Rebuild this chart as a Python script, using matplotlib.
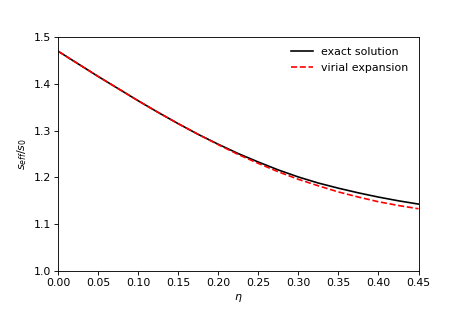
import matplotlib
matplotlib.use("Agg")
import matplotlib.pyplot as plt

# packing fraction
eta = [0.000, 0.025, 0.050, 0.075, 0.100, 0.125, 0.150, 0.175, 0.200, 0.225,
       0.250, 0.275, 0.300, 0.325, 0.350, 0.375, 0.400, 0.425, 0.450]

# s_eff / s_0
exact = [1.470, 1.443, 1.416, 1.390, 1.364, 1.339, 1.315, 1.292, 1.271, 1.251,
         1.233, 1.216, 1.201, 1.188, 1.177, 1.167, 1.158, 1.150, 1.143]
virial = [1.470, 1.443, 1.416, 1.390, 1.364, 1.339, 1.315, 1.292, 1.270, 1.249,
          1.230, 1.212, 1.196, 1.182, 1.169, 1.158, 1.148, 1.140, 1.133]

# the original was rendered a bit larger than 72 dpi, scale everything by ~1.1
s = 1.1
plt.rcParams['font.size'] = 10 * s
plt.rcParams['axes.linewidth'] = 0.8 * s
plt.rcParams['xtick.major.size'] = 3.5 * s
plt.rcParams['ytick.major.size'] = 3.5 * s
plt.rcParams['xtick.major.width'] = 0.8 * s
plt.rcParams['ytick.major.width'] = 0.8 * s

fig = plt.figure(figsize=(465 / 72, 310 / 72), dpi=72)
ax = fig.add_subplot(111)
fig.subplots_adjust(left=0.125, right=0.9, top=0.88, bottom=0.126)

ax.plot(eta, exact, 'k-', lw=1.5 * s, label='exact solution')
ax.plot(eta, virial, 'r--', lw=1.5 * s, label='virial expansion')

ax.set_xlim(0, 0.45)
ax.set_ylim(1.0, 1.5)
ax.set_xticks([0.00, 0.05, 0.10, 0.15, 0.20, 0.25, 0.30, 0.35, 0.40, 0.45])
ax.set_xlabel(r'$\eta$')
ax.set_ylabel(r'$s_{eff}/s_0$')
ax.legend(frameon=False, loc='upper right')

fig.savefig('out.png', dpi=72)
